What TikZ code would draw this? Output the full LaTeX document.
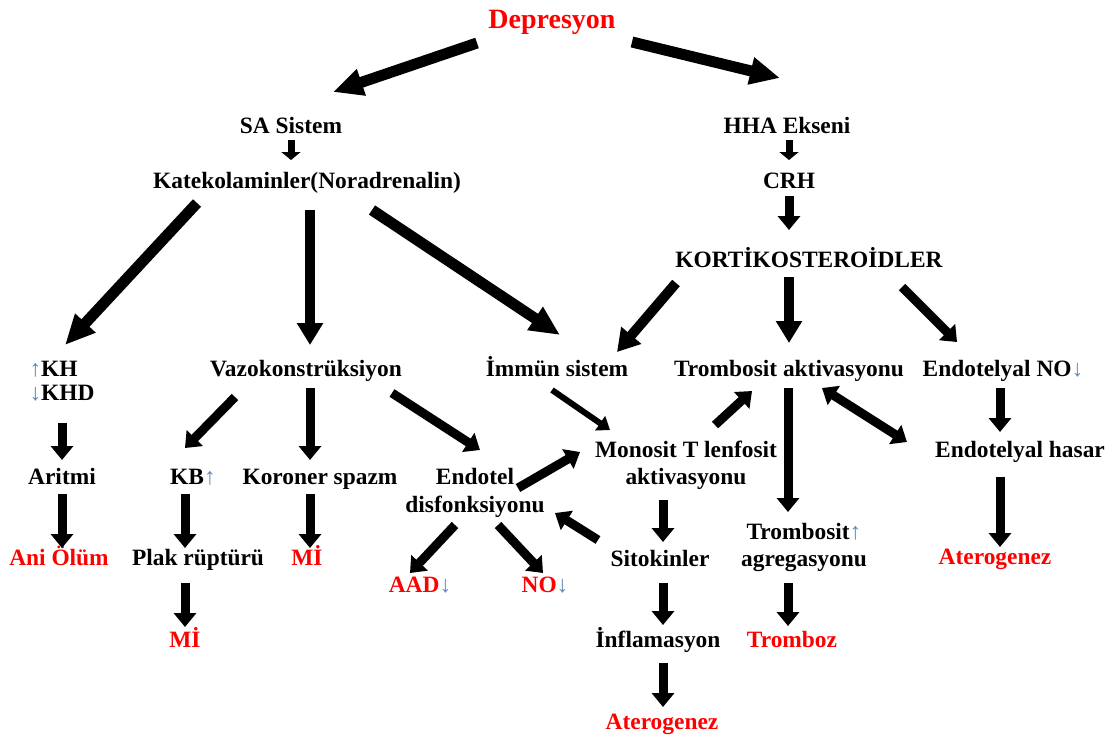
\documentclass[tikz,border=0pt]{standalone}
\usepackage{fontspec}
\setmainfont{Liberation Serif}
\usetikzlibrary{arrows.meta,calc}
\definecolor{arrowblue}{RGB}{95,135,185}
\definecolor{redtxt}{RGB}{255,0,0}
\newcommand\uparw{{\color{arrowblue}\mdseries ↑}}
\newcommand\dnarw{{\color{arrowblue}\mdseries ↓}}
\begin{document}
\begin{tikzpicture}[x=1pt,y=-1pt,
  lbl/.style={font=\fontsize{23.4}{27}\selectfont\bfseries, inner sep=0pt, outer sep=0pt,
    text height=15.8pt, text depth=0pt, align=center, anchor=center},
  two/.style={text height=42.8pt},
  rlbl/.style={lbl, text=redtxt},
  fat/.style={line width=11pt, -{Triangle[width=26pt,length=30pt]}},
  fatb/.style={line width=10pt, -{Triangle[width=25pt,length=22pt]}},
  mid/.style={line width=9pt, -{Triangle[width=22pt,length=14pt]}},
  slim/.style={line width=6pt, -{Triangle[width=17pt,length=12pt]}},
  tiny/.style={line width=7pt, -{Triangle[width=19pt,length=8pt]}},
  both/.style={line width=9pt, {Triangle[width=22pt,length=14pt]}-{Triangle[width=22pt,length=14pt]}}]
\useasboundingbox (0,0) rectangle (1118,737);
% nodes
\node[rlbl, font=\fontsize{28}{32}\selectfont\bfseries, text height=19pt] (dep) at (552,19) {Depresyon};
\node[lbl] (sa) at (291,126) {SA Sistem};
\node[lbl] (hha) at (787,126) {HHA Ekseni};
\node[lbl] (kat) at (307,181) {Katekolaminler(Noradrenalin)};
\node[lbl] (crh) at (789,181) {CRH};
\node[lbl] (kort) at (809,260) {KORTİKOSTEROİDLER};
\node[lbl, align=left, font=\fontsize{23.4}{24}\selectfont\bfseries, text height=39.8pt] (kh) at (62,381) {\uparw KH\\\dnarw KHD};
\node[lbl] (vazo) at (306,369) {Vazokonstrüksiyon};
\node[lbl] (immun) at (557,369) {İmmün sistem};
\node[lbl] (takt) at (789,369) {Trombosit aktivasyonu};
\node[lbl] (eno) at (1003,369) {Endotelyal NO\dnarw};
\node[lbl] (aritmi) at (62,477) {Aritmi};
\node[lbl] (kb) at (193,477) {KB\uparw};
\node[lbl] (koroner) at (320,477) {Koroner spazm};
\node[lbl, font=\fontsize{23.4}{28}\selectfont\bfseries, text height=43.8pt] (endotel) at (475,491) {Endotel\\disfonksiyonu};
\node[lbl, two] (monosit) at (686,463.5) {Monosit T lenfosit\\aktivasyonu};
\node[lbl] (ehasar) at (1020,450) {Endotelyal hasar};
\node[rlbl] (ani) at (59,558) {Ani Ölüm};
\node[lbl] (plak) at (198,558) {Plak rüptürü};
\node[rlbl] (mi1) at (307,558) {Mİ};
\node[lbl] (sito) at (660,559) {Sitokinler};
\node[lbl, two] (tagg) at (804,545.5) {Trombosit\uparw\\agregasyonu};
\node[rlbl] (ater1) at (995,557) {Aterogenez};
\node[rlbl] (aad) at (420,585) {AAD\dnarw};
\node[rlbl] (no) at (545,585) {NO\dnarw};
\node[rlbl] (mi2) at (185,640) {Mİ};
\node[rlbl] (tromboz) at (792,640) {Tromboz};
\node[lbl] (infl) at (658,640) {İnflamasyon};
\node[rlbl] (ater2) at (662,722) {Aterogenez};
% connectors
\draw[fat] ($(dep)+(-75,24)$) -- ($(sa)+(42,-34)$);
\draw[fat] ($(dep)+(80,23)$) -- ($(hha)+(-7,-48)$);
\draw[tiny] ($(sa)+(0,14)$) -- ($(kat)+(-16,-21)$);
\draw[tiny] ($(hha)+(2,14)$) -- ($(crh)+(0,-21)$);
\draw[mid] ($(crh)+(0,15)$) -- ($(kort)+(-20,-30)$);
\draw[fat] ($(kat)+(-110,22)$) -- ($(kh)+(3,-36)$);
\draw[fatb] ($(kat)+(3,29)$) -- ($(vazo)+(4,-24)$);
\draw[fat] ($(kat)+(65,29)$) -- ($(immun)+(3,-34)$);
\draw[fatb] ($(kort)+(-133,23)$) -- ($(immun)+(60,-17)$);
\draw[fatb] ($(kort)+(-20,17)$) -- ($(takt)+(0,-26)$);
\draw[mid] ($(kort)+(93,27)$) -- ($(eno)+(-46,-27)$);
\draw[mid] ($(kh)+(0,42)$) -- ($(aritmi)+(0,-17)$);
\draw[mid] ($(aritmi)+(0,17)$) -- ($(ani)+(3,-10)$);
\draw[mid] ($(vazo)+(-71,28)$) -- ($(kb)+(-8,-29)$);
\draw[mid] ($(vazo)+(4,19)$) -- ($(koroner)+(-10,-17)$);
\draw[mid] ($(vazo)+(86,24)$) -- ($(endotel)+(5,-41)$);
\draw[mid] ($(kb)+(-8,17)$) -- ($(plak)+(-13,-10)$);
\draw[mid] ($(koroner)+(-10,17)$) -- ($(mi1)+(3,-10)$);
\draw[mid] ($(plak)+(-13,25)$) -- ($(mi2)+(0,-13)$);
\draw[mid] ($(endotel)+(-20,34)$) -- ($(aad)+(-10,-12)$);
\draw[mid] ($(endotel)+(23,34)$) -- ($(no)+(-2,-12)$);
\draw[mid] ($(endotel)+(43,-3)$) -- ($(monosit)+(-106,-11.5)$);
\draw[mid] ($(sito)+(-62,-19)$) -- ($(endotel)+(80,22)$);
\draw[slim] ($(immun)+(-5,21)$) -- ($(monosit)+(-76,-33.5)$);
\draw[mid] ($(monosit)+(29,-38.5)$) -- ($(takt)+(-37,22)$);
\draw[mid] ($(monosit)+(-23,36.5)$) -- ($(sito)+(3,-17)$);
\draw[mid] ($(sito)+(3,24)$) -- ($(infl)+(5,-15)$);
\draw[mid] ($(infl)+(5,23)$) -- ($(ater2)+(1,-15)$);
\draw[mid] ($(takt)+(-1,19)$) -- ($(tagg)+(-16,-33.5)$);
\draw[both] ($(takt)+(33,19)$) -- ($(ehasar)+(-113,-8)$);
\draw[mid] ($(eno)+(-3,19)$) -- ($(ehasar)+(-20,-18)$);
\draw[mid] ($(ehasar)+(-20,27)$) -- ($(ater1)+(5,-10)$);
\draw[mid] ($(tagg)+(-16,37.5)$) -- ($(tromboz)+(-4,-14)$);
\end{tikzpicture}
\end{document}
